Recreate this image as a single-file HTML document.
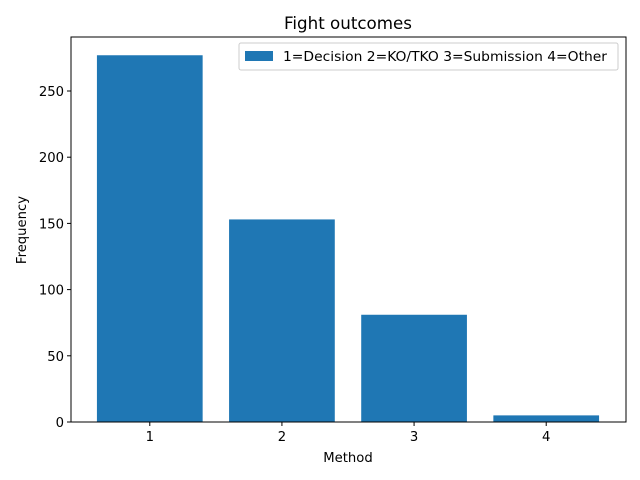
<!DOCTYPE html>
<html><head><meta charset="utf-8"><style>
body{margin:0;background:#fff;}
svg{display:block;font-family:"DejaVu Sans","Liberation Sans",sans-serif;}
</style></head><body>
<svg id="chart" width="640" height="480">
<text x="348" y="29" font-size="16.7" text-anchor="middle">Fight outcomes</text>
<text x="348" y="462" font-size="13.2" text-anchor="middle">Method</text>
<text transform="translate(26,230) rotate(-90)" font-size="13.2" text-anchor="middle">Frequency</text>
<g id="bars"></g>
<g id="ticks"></g>
<rect x="71" y="37" width="555" height="385" fill="none" stroke="#000" stroke-width="1"/>
<g>
<rect x="239" y="43" width="379" height="27" fill="#fff" stroke="#ccc" rx="2"/>
<rect x="245" y="51" width="28" height="10" fill="#1f77b4"/>
<text x="283" y="61" font-size="13.2" textLength="324" lengthAdjust="spacingAndGlyphs">1=Decision 2=KO/TKO 3=Submission 4=Other</text>
</g>
</svg>
<script>
const categories = [1, 2, 3, 4];
const values = [277, 153, 81, 5];
const yTicks = [0, 50, 100, 150, 200, 250];
const L=71,R=626,T=37,B=422;
const xs = v => L + (v-0.4)/4.2*(R-L);
const ys = v => B - v*(B-91)/250;
const NS="http://www.w3.org/2000/svg";
const bars=document.getElementById('bars'), ticks=document.getElementById('ticks');
categories.forEach((c,i)=>{
  const r=document.createElementNS(NS,'rect');
  r.setAttribute('x',xs(c-0.4)-0.5);r.setAttribute('width',xs(c+0.4)-xs(c-0.4));
  r.setAttribute('y',ys(values[i]));r.setAttribute('height',B-ys(values[i]));
  r.setAttribute('fill','#1f77b4');
  
  
  bars.appendChild(r);
  const l=document.createElementNS(NS,'line');
  l.setAttribute('x1',xs(c)-0.5);l.setAttribute('x2',xs(c)-0.5);l.setAttribute('y1',B);l.setAttribute('y2',B+4);l.setAttribute('stroke','#000');
  
  
  ticks.appendChild(l);
  const t=document.createElementNS(NS,'text');
  t.setAttribute('x',xs(c)-0.5);t.setAttribute('y',B+19);t.setAttribute('font-size','13.2');t.setAttribute('text-anchor','middle');
  t.textContent=c;
  
  
  ticks.appendChild(t);
});
yTicks.forEach(v=>{
  const l=document.createElementNS(NS,'line');
  l.setAttribute('x1',L-4);l.setAttribute('x2',L);l.setAttribute('y1',ys(v));l.setAttribute('y2',ys(v));l.setAttribute('stroke','#000');
  
  
  ticks.appendChild(l);
  const t=document.createElementNS(NS,'text');
  t.setAttribute('x',L-7);t.setAttribute('y',ys(v)+5);t.setAttribute('font-size','13.2');t.setAttribute('text-anchor','end');
  t.textContent=v;
  
  
  ticks.appendChild(t);
});
</script>
</body></html>
